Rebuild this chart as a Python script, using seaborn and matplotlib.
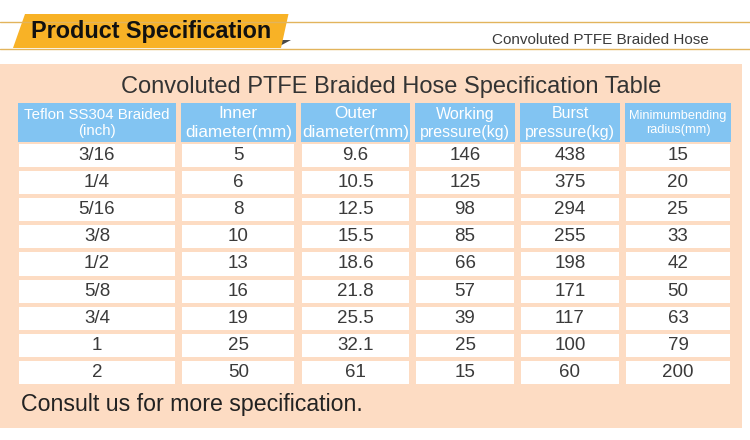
import numpy as np
import matplotlib
matplotlib.use("Agg")
import matplotlib.pyplot as plt
from matplotlib.colors import ListedColormap
from matplotlib.patches import Polygon, Rectangle
import seaborn as sns

# ---------------- data ----------------
headers = ["Teflon SS304 Braided\n(inch)", "Inner\ndiameter(mm)", "Outer\ndiameter(mm)",
           "Working\npressure(kg)", "Burst\npressure(kg)", "Minimumbending\nradius(mm)"]
sizes_inch = ["3/16", "1/4", "5/16", "3/8", "1/2", "5/8", "3/4", "1", "2"]
inner_diameter = [5, 6, 8, 10, 13, 16, 19, 25, 50]
outer_diameter = [9.6, 10.5, 12.5, 15.5, 18.6, 21.8, 25.5, 32.1, 61]
working_pressure = [146, 125, 98, 85, 66, 57, 39, 25, 15]
burst_pressure = [438, 375, 294, 255, 198, 171, 117, 100, 60]
min_bend_radius = [15, 20, 25, 33, 42, 50, 63, 79, 200]

banner_text = "Product Specification"
subtitle_text = "Convoluted PTFE Braided Hose"
table_title = "Convoluted PTFE Braided Hose Specification Table"
footer_text = "Consult us for more specification."

columns = [sizes_inch, inner_diameter, outer_diameter,
           working_pressure, burst_pressure, min_bend_radius]

# ---------------- style ----------------
sns.set_theme(style="white")
plt.rcParams["font.family"] = ["Liberation Sans", "DejaVu Sans"]

W, H = 750, 440
PEACH = "#FDDCC3"
BLUE = "#82C4F2"
GOLD = "#E2B45C"
ORANGE = "#F8B226"
TXT = "#3a3a3a"

fig = plt.figure(figsize=(W / 100, H / 100), dpi=100, facecolor="white")

# background / decoration axes in pixel coordinates
bg = fig.add_axes([0, 0, 1, 1])
bg.set_xlim(0, W)
bg.set_ylim(H, 0)
bg.axis("off")

bg.add_patch(Rectangle((0, 64), 742, 364, facecolor=PEACH, edgecolor="none"))
bg.plot([0, W], [22.5, 22.5], color=GOLD, lw=1.0)
bg.plot([0, W], [49.5, 49.5], color=GOLD, lw=1.0)
bg.add_patch(Polygon([(281, 40), (291, 40), (277, 47.5)], closed=True,
                     facecolor="#4a4a4a", edgecolor="none"))
bg.add_patch(Polygon([(25, 14), (288.5, 14), (281, 48), (13, 48)], closed=True,
                     facecolor=ORANGE, edgecolor="none"))
bg.text(151, 31.5, banner_text, ha="center", va="center", fontsize=16.8,
        fontweight="bold", color="#111111")
bg.text(709, 40, subtitle_text, ha="right", va="center", fontsize=11,
        color=TXT)
bg.text(391, 86.5, table_title, ha="center", va="center", fontsize=17, color="#333333")
bg.text(21, 404, footer_text, ha="left", va="center", fontsize=16.7, color="#222222")

# ---------------- table cells via seaborn heatmaps ----------------
col_edges = [(18, 176), (181, 295.5), (301, 410), (415, 515), (520, 620), (625, 731)]
head_top, head_bot = 103, 143
data_top, data_bot = 143, 385
header_sizes = [10.8, 12.3, 12.3, 11.5, 11.5, 9.2]
pad = 0.9


def fig_rect(x0, x1, y0, y1):
    return [x0 / W, 1 - y1 / H, (x1 - x0) / W, (y1 - y0) / H]


for (x0, x1), head, vals, hs in zip(col_edges, headers, columns, header_sizes):
    # header cell
    axh = fig.add_axes(fig_rect(x0, x1, head_top, head_bot))
    sns.heatmap(np.zeros((1, 1)), ax=axh, cmap=ListedColormap([BLUE]), cbar=False,
                annot=np.array([[head]]), fmt="", xticklabels=False, yticklabels=False,
                annot_kws={"color": "white", "fontsize": hs, "linespacing": 1.25})
    axh.axis("off")

    # data cells
    axd = fig.add_axes(fig_rect(x0 - pad, x1 + pad, data_top - pad, data_bot + pad))
    labels = np.array([str(v) for v in vals]).reshape(-1, 1)
    sns.heatmap(np.zeros((len(vals), 1)), ax=axd, cmap=ListedColormap(["white"]),
                cbar=False, annot=labels, fmt="", xticklabels=False, yticklabels=False,
                linewidths=1.6, linecolor=PEACH,
                annot_kws={"color": TXT, "fontsize": 13.5})
    axd.axis("off")

fig.savefig("out.png", dpi=100, facecolor="white")
